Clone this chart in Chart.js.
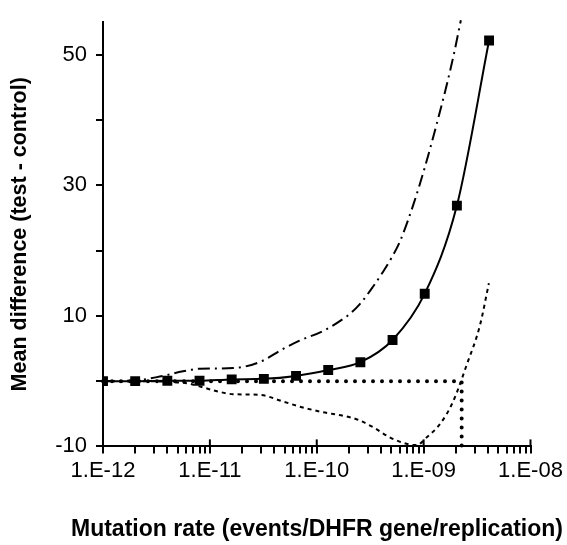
<!DOCTYPE html>
<html>
<head>
<meta charset="utf-8">
<script src="https://cdn.jsdelivr.net/npm/chart.js@4/dist/chart.umd.min.js"></script>
<style>
  html, body { margin: 0; padding: 0; background: #fff; }
  #wrap { width: 567px; height: 545px; }
</style>
</head>
<body>
<div id="wrap"><canvas id="c" width="567" height="545"></canvas></div>
<script>
// ---- data ----
const rates = [1e-12, 2e-12, 4e-12, 8e-12, 1.6e-11, 3.2e-11, 6.4e-11, 1.28e-10, 2.56e-10, 5.12e-10, 1.024e-9, 2.048e-9, 4.096e-9];
const meanDiff = [0, 0, 0.05, 0.05, 0.27, 0.35, 0.8, 1.7, 2.9, 6.3, 13.4, 26.9, 52.2];

const upperX = [1e-12, 2e-12, 3.4e-12, 5.6e-12, 8e-12, 1.65e-11, 2.9e-11, 4.8e-11, 6.9e-11, 1.15e-10, 2.0e-10, 2.53e-10, 3.37e-10, 4.19e-10, 5.05e-10, 6.0e-10, 8.0e-10, 1.07e-9, 1.32e-9, 1.64e-9, 1.93e-9, 2.23e-9];
const upperY = [0, 0.1, 0.7, 1.5, 1.9, 2.0, 2.9, 4.9, 6.2, 7.7, 10.2, 11.8, 14.5, 16.8, 19.0, 21.4, 27.0, 33.8, 39.3, 45.3, 50.3, 55.3];

const lowerX = [1e-12, 2e-12, 4e-12, 6.5e-12, 8e-12, 1.2e-11, 1.65e-11, 2.9e-11, 4.8e-11, 6.9e-11, 1.1e-10, 2.0e-10, 2.5e-10, 3.4e-10, 4.8e-10, 6.9e-10, 8.6e-10, 1.07e-9, 1.42e-9, 1.89e-9, 2.53e-9, 3.36e-9, 4.08e-9];
const lowerY = [0, 0, -0.1, -0.4, -0.8, -1.6, -2.0, -2.1, -3.1, -3.9, -4.7, -5.5, -6.0, -7.1, -8.6, -9.6, -9.8, -8.6, -6.6, -3.1, 2.5, 8.5, 15];

const refX = [1e-12, 2.27e-9, 2.27e-9];
const refY = [0, 0, -11];

// ---- axes ----
const xMajorTicks = [1e-12, 1e-11, 1e-10, 1e-9, 1e-8];
const xTickLabels = ['1.E-12', '1.E-11', '1.E-10', '1.E-09', '1.E-08'];
const xMinorMultipliers = [2, 3, 4, 5, 6, 7, 8, 9];
const yTicks = [-10, 0, 10, 20, 30, 40, 50];
const yLabeledTicks = [-10, 10, 30, 50];
const xTitle = 'Mutation rate (events/DHFR gene/replication)';
const yTitle = 'Mean difference (test - control)';

const FONT = "'Liberation Sans', Arial, sans-serif";

const pts = (xs, ys) => xs.map((x, i) => ({ x: x, y: ys[i] }));

const xTickValues = [];
xMajorTicks.forEach((m, i) => {
  xTickValues.push(m);
  if (i < xMajorTicks.length - 1) xMinorMultipliers.forEach(k => xTickValues.push(m * k));
});
xTickValues.sort((a, b) => a - b);

const majorUp = {
  id: 'majorUp',
  afterDraw(chart) {
    const s = chart.scales.x, ctx = chart.ctx;
    ctx.save();
    ctx.strokeStyle = '#000';
    ctx.lineWidth = 2;
    xMajorTicks.slice(1).forEach(v => {
      const px = s.getPixelForValue(v);
      ctx.beginPath();
      ctx.moveTo(px, s.top - 7);
      ctx.lineTo(px, s.top);
      ctx.stroke();
    });
    ctx.restore();
  }
};

new Chart(document.getElementById('c'), {
  type: 'line',
  data: {
    datasets: [
      {
        data: pts(refX, refY),
        borderColor: '#000', borderWidth: 4, borderDash: [0, 9], borderCapStyle: 'round',
        pointRadius: 0, tension: 0, clip: false, order: 4
      },
      {
        data: pts(upperX, upperY),
        borderColor: '#000', borderWidth: 2, borderDash: [12, 5, 2, 5],
        pointRadius: 0, cubicInterpolationMode: 'monotone', clip: false, order: 3
      },
      {
        data: pts(lowerX, lowerY),
        borderColor: '#000', borderWidth: 2, borderDash: [4, 4],
        pointRadius: 0, cubicInterpolationMode: 'monotone', clip: false, order: 2
      },
      {
        data: pts(rates, meanDiff),
        borderColor: '#000', borderWidth: 2,
        pointStyle: 'rect', pointRadius: 7, pointBackgroundColor: '#000', pointBorderWidth: 0,
        cubicInterpolationMode: 'monotone', order: 1
      }
    ]
  },
  options: {
    responsive: false,
    animation: false,
    devicePixelRatio: 1,
    layout: { padding: { left: 0, top: 13, right: -67, bottom: 0 } },
    plugins: {
      legend: { display: false },
      tooltip: { enabled: false },
      title: {
        display: true, position: 'bottom', text: xTitle, color: '#000',
        font: { family: FONT, size: 23, weight: 'bold', lineHeight: 1.2 },
        padding: { top: 0, bottom: 2 }
      }
    },
    scales: {
      x: {
        type: 'logarithmic',
        min: 1e-12, max: 1e-8,
        afterBuildTicks: s => { s.ticks = xTickValues.map(v => ({ value: v })); },
        afterFit: s => { s.height = 69; s.paddingRight = 36.5; },
        grid: { display: true, drawOnChartArea: false, drawTicks: true, tickLength: 7, color: '#000', lineWidth: 2 },
        border: { display: true, color: '#000', width: 2 },
        ticks: {
          autoSkip: false, maxRotation: 0, minRotation: 0, padding: 4, color: '#000',
          font: { family: FONT, size: 22 },
          callback: (v) => {
            const i = xMajorTicks.findIndex(m => Math.abs(m - v) / m < 1e-6);
            return i >= 0 ? xTickLabels[i] : '';
          }
        }
      },
      y: {
        type: 'linear',
        min: -10, max: 55,
        afterBuildTicks: s => { s.ticks = yTicks.map(v => ({ value: v })); },
        afterFit: s => { s.width = 103; },
        grid: { display: true, drawOnChartArea: false, drawTicks: true, tickLength: 7, color: '#000', lineWidth: 2 },
        border: { display: true, color: '#000', width: 2 },
        ticks: {
          padding: 9, color: '#000',
          font: { family: FONT, size: 22 },
          callback: (v) => yLabeledTicks.includes(v) ? String(v) : ''
        },
        title: {
          display: true, text: yTitle, color: '#000',
          font: { family: FONT, size: 21.5, weight: 'bold' },
          padding: { top: 7, bottom: 0 }
        }
      }
    }
  },
  plugins: [majorUp]
});
</script>
</body>
</html>
